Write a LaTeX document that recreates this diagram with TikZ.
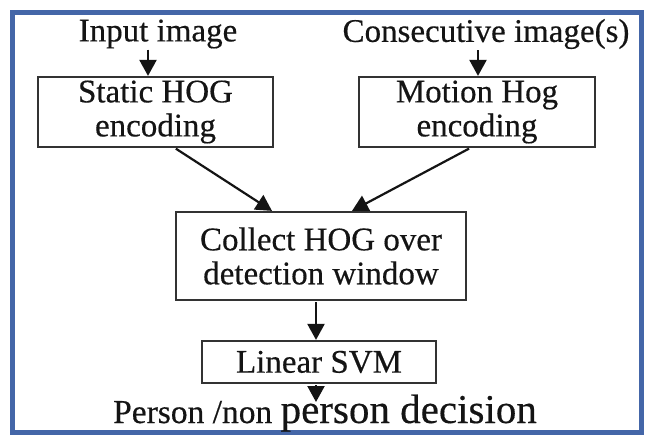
\documentclass[tikz,border=0pt]{standalone}
\usepackage{fontspec}
\setmainfont{Liberation Serif}[FakeBold=0.4]
\newfontface\textface{Liberation Serif}[FakeBold=0.4]
\usetikzlibrary{arrows.meta}
\definecolor{frameblue}{HTML}{4466A8}
\definecolor{ink}{HTML}{141414}
\definecolor{boxline}{HTML}{333333}
\tikzset{
  stagebox/.style={draw=boxline, line width=2.2pt, fill=white, text=ink,
    align=center, inner sep=0pt,
    font=\textface\fontsize{33}{34}\selectfont},
  label text/.style={text=ink, inner sep=0pt, font=\textface\fontsize{33}{34}\selectfont},
  flow/.style={draw=ink, line width=2.2pt,
    -{Triangle[length=16pt,width=17pt]}, shorten <=1pt}
}
\begin{document}
\begin{tikzpicture}[x=1pt,y=-1pt]
  \useasboundingbox (0,0) rectangle (645,435);
  \fill[white] (0,0) rectangle (645,435);
  % outer frame
  \draw[frameblue, line width=5pt] (12,13) rectangle (641,432);

  % inputs
  \node[label text] (input) at (158,34) {Input image};
  \node[label text] (consec) at (486,34) {Consecutive image(s)};

  % stages
  \node[stagebox, minimum width=235pt, minimum height=70pt] (static) at (155.5,112)
    {Static HOG\\encoding};
  \node[stagebox, minimum width=236pt, minimum height=70pt] (motion) at (477,112)
    {Motion Hog\\encoding};
  \node[stagebox, minimum width=290pt, minimum height=88pt] (collect) at (321,256)
    {Collect HOG over\\detection window};
  \node[stagebox, minimum width=234pt, minimum height=42pt] (svm) at (319,362)
    {Linear SVM};

  % decision
  \node[text=ink, inner sep=0pt, anchor=base] (decision) at (325,423)
    {{\textface\fontsize{33.5}{36}\selectfont Person /non }{\textface\fontsize{41}{44}\selectfont person decision}};

  % connector columns
  \coordinate (ca) at (148,0);
  \coordinate (cb) at (478,0);
  \coordinate (cs) at (175,0);
  \coordinate (cm) at (470,0);
  \coordinate (cl) at (272,0);
  \coordinate (cr) at (352,0);
  \coordinate (cv) at (316,0);
  \coordinate (dtop) at (0,402);

  % connectors
  \draw[flow] (input.south -| ca) -- (static.north -| ca);
  \draw[flow] (consec.south -| cb) -- (motion.north -| cb);
  \draw[flow] (static.south -| cs) -- (collect.north -| cl);
  \draw[flow] (motion.south -| cm) -- (collect.north -| cr);
  \draw[flow] (collect.south -| cv) -- (svm.north -| cv);
  \draw[flow] (svm.south -| cv) -- (dtop -| cv);
\end{tikzpicture}
\end{document}
